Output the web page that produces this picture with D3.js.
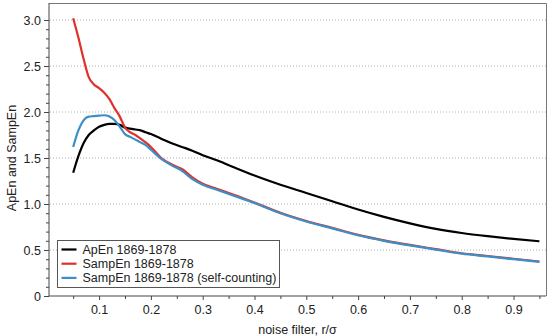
<!DOCTYPE html>
<html>
<head>
<meta charset="utf-8">
<script src="https://cdn.jsdelivr.net/npm/d3@7"></script>
<style>
  body { margin: 0; background: #fff; }
  text { font-family: "Liberation Sans", Arial, sans-serif; fill: #222; }
</style>
</head>
<body>
<div id="chart"></div>
<script>
const WIDTH = 550;
const HEIGHT = 336;
const MARGIN = { top: 3, right: 4, bottom: 40, left: 49 };

// noise filter r/sigma
const rValues = [0.05, 0.06, 0.07, 0.08, 0.09, 0.10, 0.11, 0.12, 0.13, 0.14, 0.15, 0.16, 0.17, 0.18, 0.19, 0.20,
    0.22, 0.24, 0.26, 0.28, 0.30, 0.33, 0.36, 0.40, 0.45, 0.50, 0.55, 0.60, 0.65, 0.70, 0.75, 0.80, 0.85, 0.90, 0.95];

const apEn = [1.34, 1.52, 1.66, 1.75, 1.80, 1.84, 1.86, 1.87, 1.87, 1.86, 1.83, 1.82, 1.81, 1.80, 1.78, 1.76,
    1.71, 1.66, 1.62, 1.58, 1.53, 1.47, 1.40, 1.31, 1.21, 1.12, 1.03, 0.94, 0.86, 0.79, 0.73, 0.685, 0.65, 0.62, 0.595];

const sampEn = [3.02, 2.81, 2.58, 2.38, 2.30, 2.26, 2.21, 2.14, 2.04, 1.95, 1.83, 1.78, 1.75, 1.71, 1.67, 1.62,
    1.50, 1.43, 1.38, 1.29, 1.22, 1.16, 1.10, 1.015, 0.905, 0.815, 0.74, 0.665, 0.605, 0.555, 0.51, 0.465, 0.435, 0.405, 0.375];

const sampEnSelf = [1.62, 1.80, 1.91, 1.95, 1.955, 1.96, 1.965, 1.95, 1.91, 1.84, 1.76, 1.73, 1.70, 1.67, 1.64, 1.59,
    1.49, 1.42, 1.36, 1.27, 1.21, 1.15, 1.09, 1.01, 0.90, 0.81, 0.735, 0.66, 0.60, 0.55, 0.505, 0.46, 0.43, 0.40, 0.37];

const seriesNames = ['ApEn 1869-1878', 'SampEn 1869-1878', 'SampEn 1869-1878 (self-counting)'];
const seriesColors = ['#000000', '#e0302a', '#3b8fc6'];

const xTicks = [0.1, 0.2, 0.3, 0.4, 0.5, 0.6, 0.7, 0.8, 0.9];
const yTicks = [0, 0.5, 1.0, 1.5, 2.0, 2.5, 3.0];

const svg = d3.select('#chart')
    .append('svg')
    .attr('width', WIDTH)
    .attr('height', HEIGHT);

const x = d3.scaleLinear().domain([0.0033, 0.9627]).range([MARGIN.left, WIDTH - MARGIN.right]);
const y = d3.scaleLinear().domain([0, 3.185]).range([HEIGHT - MARGIN.bottom, MARGIN.top]);

// dotted grid
svg.append('g')
    .selectAll('line')
    .data(yTicks.filter(d => d > 0))
    .enter()
    .append('line')
    .attr('x1', x.range()[0] + 1)
    .attr('x2', x.range()[1])
    .attr('y1', d => y(d))
    .attr('y2', d => y(d))
    .style('stroke', '#b0b0b0')
    .style('stroke-width', 1)
    .style('stroke-dasharray', '1,2');

// frame top & right
svg.append('path')
    .attr('d', `M${x.range()[0]},${y.range()[1] + 0.5}H${x.range()[1] + 0.5}V${y.range()[0]}`)
    .style('fill', 'none')
    .style('stroke', '#777')
    .style('stroke-width', 1);

// y axis
const yMinor = d3.range(0, 31).map(i => i / 10).filter(v => Math.round(v * 10) % 5 !== 0);
svg.append('g')
    .attr('transform', `translate(${MARGIN.left},0)`)
    .call(d3.axisLeft(y).tickValues(yMinor).tickSize(3).tickFormat(''))
    .call(g => g.select('.domain').remove())
    .selectAll('line').style('stroke', '#444');

const yAxis = svg.append('g')
    .attr('transform', `translate(${MARGIN.left},0)`)
    .call(d3.axisLeft(y).tickValues(yTicks).tickSize(5).tickPadding(3)
        .tickFormat(d => d === 0 ? '0' : d3.format('.1f')(d)));
yAxis.select('.domain').attr('d', `M0,${y.range()[0]}V${y.range()[1]}`).style('stroke', '#444');
yAxis.selectAll('line').style('stroke', '#444');
yAxis.selectAll('text').style('font-size', '12.5px').style('font-family', '"Liberation Sans", Arial, sans-serif').attr('fill', '#222');

// x axis
const xMinor = [0.05, 0.15, 0.25, 0.35, 0.45, 0.55, 0.65, 0.75, 0.85, 0.95];
svg.append('g')
    .attr('transform', `translate(0,${HEIGHT - MARGIN.bottom})`)
    .call(d3.axisBottom(x).tickValues(xMinor).tickSize(3).tickFormat(''))
    .call(g => g.select('.domain').remove())
    .selectAll('line').style('stroke', '#444');

const xAxis = svg.append('g')
    .attr('transform', `translate(0,${HEIGHT - MARGIN.bottom})`)
    .call(d3.axisBottom(x).tickValues(xTicks).tickSize(4).tickPadding(5).tickFormat(d3.format('.1f')));
xAxis.select('.domain').attr('d', `M${x.range()[0]},0H${x.range()[1]}`).style('stroke', '#444');
xAxis.selectAll('line').style('stroke', '#444');
xAxis.selectAll('text').style('font-size', '12.5px').style('font-family', '"Liberation Sans", Arial, sans-serif').attr('fill', '#222');

// axis titles
svg.append('text')
    .attr('x', (x.range()[0] + x.range()[1]) / 2)
    .attr('y', 334)
    .style('text-anchor', 'middle')
    .style('font-size', '12.5px')
    .text('noise filter, r/σ');

svg.append('text')
    .attr('transform', `translate(16,${(y.range()[0] + y(3.0)) / 2}) rotate(-90)`)
    .style('text-anchor', 'middle')
    .style('font-size', '12.5px')
    .text('ApEn and SampEn');

// lines
const allSeries = [apEn, sampEn, sampEnSelf];
const drawOrder = [0, 1, 2];
const valueline = d3.line()
    .x((d, i) => x(rValues[i]))
    .y(d => y(d))
    .curve(d3.curveMonotoneX);

drawOrder.forEach(k => {
    svg.append('path')
        .datum(allSeries[k])
        .attr('d', valueline)
        .style('fill', 'none')
        .style('stroke', seriesColors[k])
        .style('stroke-width', '2.2px')
        .style('stroke-linejoin', 'round');
});

// legend
const legend = svg.append('g').attr('transform', 'translate(57.5,240.5)');
legend.append('rect')
    .attr('width', 222)
    .attr('height', 47)
    .style('fill', '#fff')
    .style('stroke', '#555')
    .style('stroke-width', 1);

const items = legend.selectAll('g.item')
    .data(seriesNames)
    .enter()
    .append('g')
    .attr('class', 'item')
    .attr('transform', (d, i) => `translate(0,${9 + i * 14.2})`);

items.append('line')
    .attr('x1', 4)
    .attr('x2', 19)
    .style('stroke', (d, i) => seriesColors[i])
    .style('stroke-width', 2.2);

items.append('text')
    .attr('x', 25)
    .attr('y', 4.5)
    .style('font-size', '12.5px')
    .text(d => d);
</script>
</body>
</html>
